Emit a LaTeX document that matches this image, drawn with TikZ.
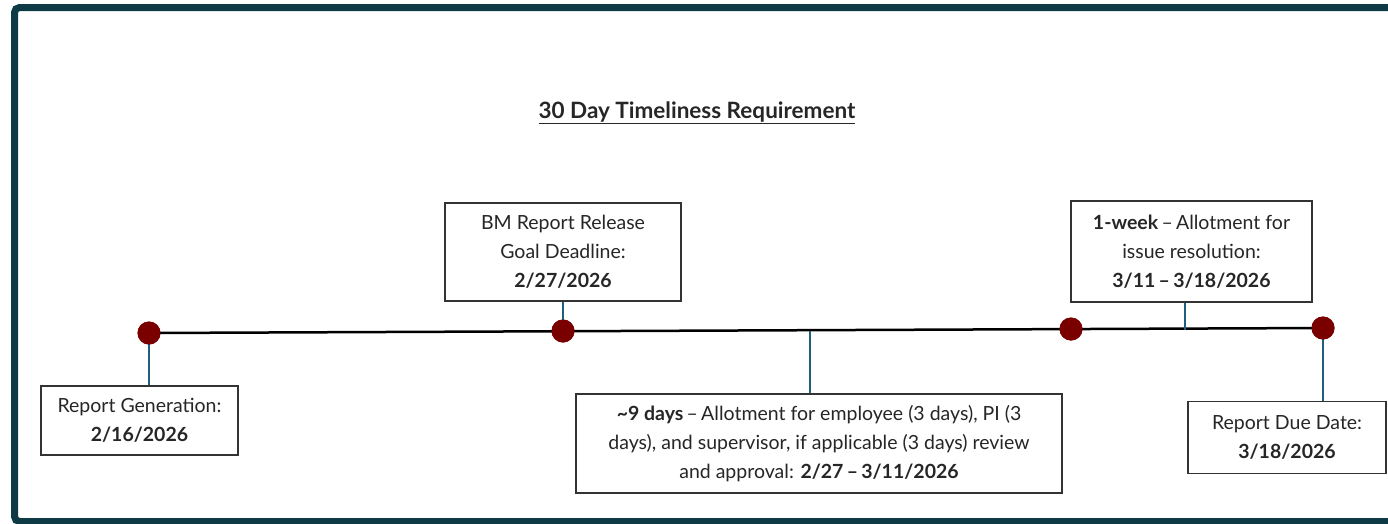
\documentclass[tikz,border=0pt]{standalone}
\usepackage{fontspec}
\setmainfont{Lato}
\definecolor{frameteal}{HTML}{0E3A45}
\definecolor{dotred}{HTML}{7A0000}
\definecolor{stemblue}{HTML}{1F5E7E}
\definecolor{boxgrey}{HTML}{333333}
\begin{document}
\begin{tikzpicture}[x=1pt,y=-1pt,
    every node/.style={font=\fontsize{19.5}{29}\selectfont, text=black!85},
    infobox/.style={draw=boxgrey, line width=1.5pt, fill=white, align=center, inner sep=0pt},
    milestone/.style={circle, fill=dotred, minimum size=23pt, inner sep=0pt},
    stem/.style={draw=stemblue, line width=2pt}]
    \useasboundingbox (0,0) rectangle (1388,523);
    \clip (0,0) rectangle (1388,523);
    % frame
    \draw[frameteal, line width=7pt, rounded corners=5pt] (14.5,7.5) rectangle (1420,521.5);
    % title
    \node[font=\fontsize{22.5}{27}\selectfont] (title) at (697,113)
        {\textbf{\underline{30 Day Timeliness Requirement}}};
    % timeline
    \node[milestone] (m1) at (149,333) {};
    \node[milestone] (m2) at (563,331) {};
    \node[milestone] (m3) at (1071,329) {};
    \node[milestone] (m4) at (1323,328) {};
    \coordinate (c9) at (810,331);
    \coordinate (cwk) at (1185,330);
    \draw[black, line width=2.5pt] (m1.center) -- (m4.center);
    % boxes
    \node[infobox, minimum width=197pt, minimum height=69pt] (gen) at (139.5,420.5)
        {Report Generation:\\ \textbf{2/16/2026}};
    \node[infobox, minimum width=236pt, minimum height=98pt] (goal) at (563,252)
        {BM Report Release\\ Goal Deadline:\\ \textbf{2/27/2026}};
    \node[infobox, minimum width=486pt, minimum height=99pt] (nine) at (819,443.5)
        {\textbf{\textasciitilde9 days}\,--\,Allotment for employee (3 days), PI (3\\
         days), and supervisor, if applicable (3 days) review\\
         and approval: \textbf{2/27\,--\,3/11/2026}};
    \node[infobox, minimum width=241pt, minimum height=101pt] (week) at (1191.5,251.5)
        {\textbf{1-week}\,--\,Allotment for\\ issue resolution:\\ \textbf{3/11\,--\,3/18/2026}};
    \node[infobox, minimum width=198pt, minimum height=72pt] (due) at (1287,437.5)
        {Report Due Date:\\ \textbf{3/18/2026}};
    % stems
    \draw[stem] (m1.center) -- (gen.north -| m1);
    \draw[stem] (goal.south -| m2) -- (m2.center);
    \draw[stem] (c9) -- (nine.north -| c9);
    \draw[stem] (week.south -| cwk) -- (cwk);
    \draw[stem] (m4.center) -- (due.north -| m4);
    % dots on top
    \foreach \m in {m1,m2,m3,m4}
        \fill[dotred] (\m) circle (11.5pt);
\end{tikzpicture}
\end{document}
